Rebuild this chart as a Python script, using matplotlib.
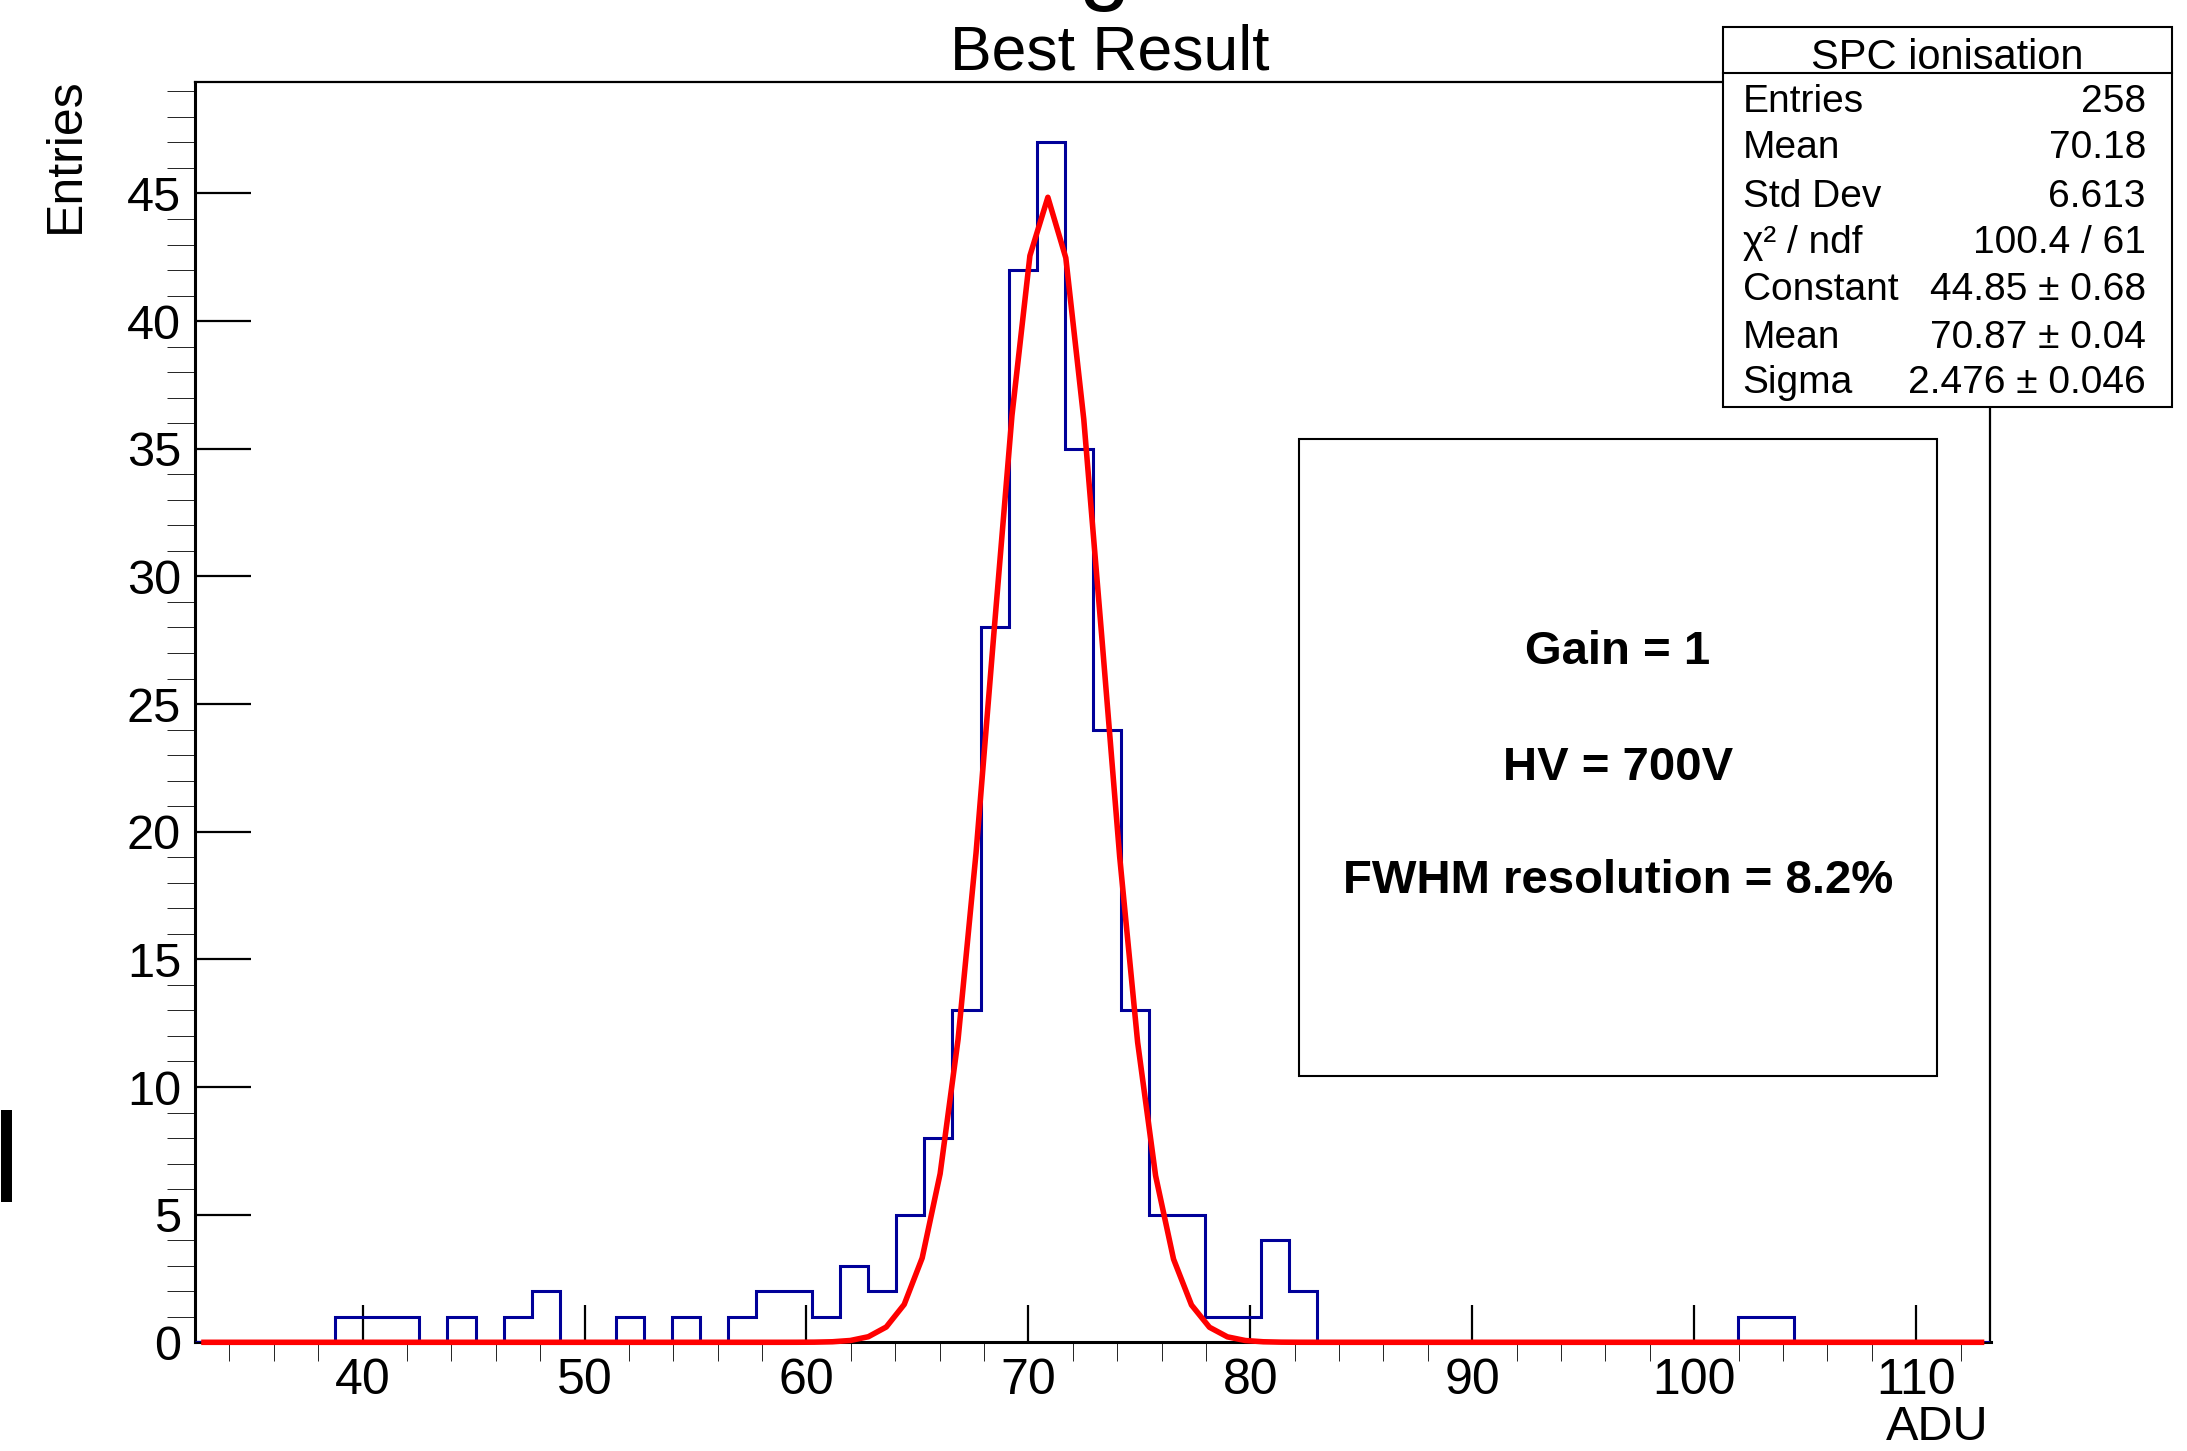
import matplotlib.pyplot as plt
import numpy as np
from matplotlib.patches import Rectangle

plt.rcParams["font.family"] = ["Liberation Sans", "DejaVu Sans"]

W, H = 2187, 1451

# histogram: 64 equal bins between these limits
x_low = 32.45
x_high = 113.35
counts = [0, 0, 0, 0, 0, 1, 1, 1, 0, 1,
          0, 1, 2, 0, 0, 1, 0, 1, 0, 1,
          2, 2, 1, 3, 2, 5, 8, 13, 28, 42,
          47, 35, 24, 13, 5, 5, 1, 1, 4, 2,
          0, 0, 0, 0, 0, 0, 0, 0, 0, 0,
          0, 0, 0, 0, 0, 1, 1, 0, 0, 0,
          0, 0, 0, 0]

# gaussian fit, as printed in the stats box
fit_constant = 44.85
fit_mean = 70.87
fit_sigma = 2.476
fit_npx = 100

stat_labels = ["Entries", "Mean", "Std Dev", "χ² / ndf", "Constant", "Mean", "Sigma"]
stat_values = ["258", "70.18", "6.613", "100.4 / 61", "44.85 ± 0.68", "70.87 ± 0.04", "2.476 ± 0.046"]
info_lines = ["Gain = 1", "HV = 700V", "FWHM resolution = 8.2%"]


def fx(x):
    return x / W


def fy(y):
    return 1 - y / H


fig = plt.figure(figsize=(W / 100, H / 100), dpi=100)

left, right, top, bottom = 195, 1990.5, 82.4, 1342.3
ax = fig.add_axes([fx(left), fy(bottom), fx(right - left), (bottom - top) / H])

edges = np.linspace(x_low, x_high, len(counts) + 1)
ax.stairs(counts, edges, color="#000099", lw=2.2, zorder=3)

step = (x_high - x_low) / fit_npx
xs = x_low + (np.arange(fit_npx) + 0.5) * step
ys = fit_constant * np.exp(-0.5 * ((xs - fit_mean) / fit_sigma) ** 2)
ax.plot(xs, ys, color="#ff0000", lw=4, zorder=4, clip_on=False)

ax.set_xlim(x_low, x_high)
ax.set_ylim(0, max(counts) * 1.05)

ax.set_xticks(np.arange(40, 111, 10))
ax.set_xticks(np.arange(34, 113, 2), minor=True)
ax.set_yticks(np.arange(0, 46, 5))
ax.set_yticks(np.arange(0, 50, 1), minor=True)

ax.tick_params(direction="in", width=1.6, top=False, right=False)
ax.tick_params(axis="x", which="major", length=27, pad=11, labelsize=36)
ax.tick_params(axis="x", which="minor", length=14)
ax.tick_params(axis="y", which="major", length=40, pad=10, labelsize=35)
ax.tick_params(axis="y", which="minor", length=20)
for side in ["left", "bottom"]:
    ax.spines[side].set_linewidth(2.2)
for side in ["top", "right"]:
    ax.spines[side].set_linewidth(1.6)

# titles
fig.text(fx(1109.6), fy(70), "Best Result", fontsize=45, ha="center", va="baseline")
fig.text(fx(79), fy(77), "Entries", fontsize=36, rotation=90,
         rotation_mode="anchor", ha="right", va="baseline")
fig.text(fx(1989), fy(1450), "ADU", fontsize=35, ha="right", va="bottom")

# stats box
sx0, sx1, sy0, sy1 = 1722.7, 2171.7, 27.3, 406.7
fig.add_artist(Rectangle((fx(sx0), fy(sy1)), fx(sx1 - sx0), (sy1 - sy0) / H,
                         transform=fig.transFigure, facecolor="white",
                         edgecolor="black", lw=1.5, zorder=5))
fig.add_artist(plt.Line2D([fx(sx0), fx(sx1)], [fy(73.3), fy(73.3)],
                          transform=fig.transFigure, color="black", lw=1.5, zorder=6))
fig.text(fx((sx0 + sx1) / 2), fy(69.3), "SPC ionisation", fontsize=30,
         ha="center", va="baseline", zorder=7)
row_baselines = [111.7, 158.3, 206.7, 253.3, 300, 348.3, 393]
for label, value, yb in zip(stat_labels, stat_values, row_baselines):
    fig.text(fx(1742.7), fy(yb), label, fontsize=28, ha="left", va="baseline", zorder=7)
    fig.text(fx(2146), fy(yb), value, fontsize=28, ha="right", va="baseline", zorder=7)

# info box
bx0, bx1, by0, by1 = 1299, 1937, 439.3, 1076
fig.add_artist(Rectangle((fx(bx0), fy(by1)), fx(bx1 - bx0), (by1 - by0) / H,
                         transform=fig.transFigure, facecolor="none",
                         edgecolor="black", lw=1.5, zorder=5))
for line, yb in zip(info_lines, [664, 779.5, 893]):
    fig.text(fx((bx0 + bx1) / 2), fy(yb), line, fontsize=34, fontweight="bold",
             ha="center", va="baseline", zorder=7)

# cropped bits at the picture edges
fig.text(fx(1104), fy(-6.6), "g", fontsize=67, ha="center", va="baseline")
fig.add_artist(Rectangle((fx(1), fy(1202)), fx(11), 92 / H,
                         transform=fig.transFigure, facecolor="black", lw=0))

fig.savefig("out.png", dpi=100)
